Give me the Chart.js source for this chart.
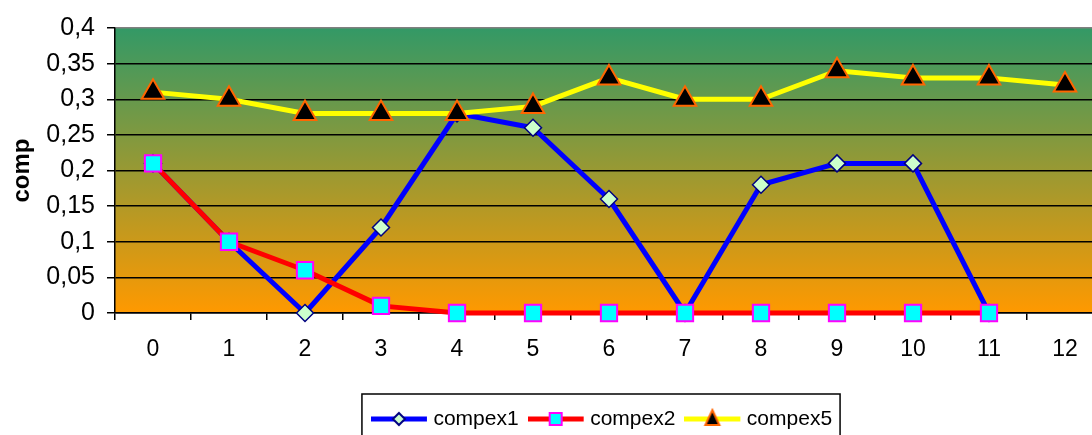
<!DOCTYPE html>
<html>
<head>
<meta charset="utf-8">
<script src="https://cdn.jsdelivr.net/npm/chart.js@4"></script>
<style>
  html, body { margin: 0; padding: 0; background: #fff; overflow: hidden; }
</style>
</head>
<body>
<canvas id="myChart" width="1118" height="445"></canvas>
<script>
const categories = ['0', '1', '2', '3', '4', '5', '6', '7', '8', '9', '10', '11', '12'];
const compex1 = [0.21, 0.1, 0, 0.12, 0.28, 0.26, 0.16, 0, 0.18, 0.21, 0.21, 0, null];
const compex2 = [0.21, 0.1, 0.06, 0.01, 0, 0, 0, 0, 0, 0, 0, 0, null];
const compex5 = [0.31, 0.3, 0.28, 0.28, 0.28, 0.29, 0.33, 0.3, 0.3, 0.34, 0.33, 0.33, 0.32];
const yMin = 0;
const yMax = 0.4;
const yStep = 0.05;

const FONT = 'Arial, "Liberation Sans", sans-serif';
const ICON_BOX = 37;   // room the legend keeps for each icon
const ICON_SHIFT = 5.5; // icon drawn a bit left of the box centre

// little icon for the legend: a line with the marker in the middle
function makeIcon(color, marker, fill, stroke) {
	const c = document.createElement('canvas');
	c.width = 56 + 2 * ICON_SHIFT;
	c.height = 26;
	const g = c.getContext('2d');
	g.strokeStyle = color;
	g.lineWidth = 5;
	g.beginPath();
	g.moveTo(0, 13);
	g.lineTo(56, 13);
	g.stroke();
	g.fillStyle = fill;
	g.strokeStyle = stroke;
	g.lineWidth = 2;
	g.beginPath();
	if (marker === 'diamond') {
		g.moveTo(28, 7); g.lineTo(34, 13); g.lineTo(28, 19); g.lineTo(22, 13);
	} else if (marker === 'square') {
		g.rect(22, 7, 12, 12);
	} else {
		g.moveTo(28, 4); g.lineTo(35, 19); g.lineTo(21, 19);
	}
	g.closePath();
	g.fill();
	g.stroke();
	return c;
}

const icons = [
	makeIcon('#0000ff', 'diamond', '#ccffcc', '#000080'),
	makeIcon('#ff0000', 'square', '#00ffff', '#ff00ff'),
	makeIcon('#ffff00', 'triangle', '#000000', '#ff6600')
];

const plotBackground = {
	id: 'plotBackground',
	beforeDraw(chart) {
		const {ctx, chartArea: a} = chart;
		const grad = ctx.createLinearGradient(0, a.top, 0, a.bottom);
		grad.addColorStop(0, '#339966');
		grad.addColorStop(1, '#ff9900');
		ctx.save();
		ctx.fillStyle = grad;
		ctx.fillRect(a.left, a.top, a.right - a.left, a.bottom - a.top);
		ctx.restore();
	}
};

const legendBorder = {
	id: 'legendBorder',
	afterDraw(chart) {
		const lg = chart.legend;
		const hb = lg.legendHitBoxes;
		if (!hb || !hb.length) return;
		const first = hb[0];
		const last = hb[hb.length - 1];
		const x0 = first.left + ICON_BOX / 2 - ICON_SHIFT - 28 - 9;
		const x1 = last.left + last.width + 8;
		const ctx = chart.ctx;
		ctx.save();
		ctx.strokeStyle = '#000';
		ctx.lineWidth = 1.5;
		ctx.strokeRect(x0, lg.top + 9.5, x1 - x0, 80);
		ctx.restore();
	}
};

const ctx = document.getElementById('myChart');

new Chart(ctx, {
	type: 'line',
	data: {
		labels: categories,
		datasets: [{
			label: 'compex1',
			data: compex1,
			borderColor: '#0000ff',
			borderWidth: 5,
			pointStyle: 'rectRot',
			pointRadius: 8.5,
			pointBackgroundColor: '#ccffcc',
			pointBorderColor: '#000080',
			pointBorderWidth: 1.5,
			order: 3
		}, {
			label: 'compex2',
			data: compex2,
			borderColor: '#ff0000',
			borderWidth: 5,
			pointStyle: 'rect',
			pointRadius: 11.5,
			pointBackgroundColor: '#00ffff',
			pointBorderColor: '#ff00ff',
			pointBorderWidth: 2,
			order: 2
		}, {
			label: 'compex5',
			data: compex5,
			borderColor: '#ffff00',
			borderWidth: 5,
			pointStyle: 'triangle',
			pointRadius: 13,
			pointBackgroundColor: '#000000',
			pointBorderColor: '#ff6600',
			pointBorderWidth: 2,
			order: 1
		}]
	},
	options: {
		responsive: false,
		animation: false,
		clip: false,
		spanGaps: false,
		elements: {
			line: { tension: 0, borderJoinStyle: 'round' }
		},
		layout: {
			padding: { left: 0, right: 7, top: 28, bottom: 5.5 }
		},
		plugins: {
			tooltip: { enabled: false },
			legend: {
				position: 'bottom',
				fullSize: false,
				labels: {
					usePointStyle: true,
					pointStyleWidth: ICON_BOX,
					padding: 24,
					color: '#000',
					font: { family: FONT, size: 21 },
					generateLabels(chart) {
						return chart.data.datasets.map((ds, i) => ({
							text: ds.label,
							pointStyle: icons[i],
							fillStyle: ds.borderColor,
							strokeStyle: ds.borderColor,
							lineWidth: 0,
							hidden: false,
							datasetIndex: i
						}));
					}
				}
			}
		},
		scales: {
			x: {
				type: 'category',
				offset: true,
				afterFit(scale) { scale.height = 71.5; },
				grid: {
					offset: true,
					drawOnChartArea: false,
					drawTicks: true,
					tickLength: 7,
					color: '#000',
					lineWidth: 1.5
				},
				border: { color: '#000', width: 1.5 },
				ticks: {
					color: '#000',
					padding: 16,
					maxRotation: 0,
					autoSkip: false,
					font: { family: FONT, size: 23 }
				}
			},
			y: {
				min: yMin,
				max: yMax,
				afterFit(scale) { scale.width = 115; },
				title: {
					display: true,
					text: 'comp',
					color: '#000',
					padding: { top: 8, bottom: 0 },
					font: { family: FONT, size: 24, weight: 'bold' }
				},
				grid: {
					color: (c) => (c.tick && c.tick.value >= yMax - 1e-9 ? '#808080' : '#000'),
					lineWidth: 1.5,
					tickLength: 8,
					tickColor: '#000'
				},
				border: { color: '#000', width: 1.5 },
				ticks: {
					stepSize: yStep,
					color: '#000',
					padding: 12,
					font: { family: FONT, size: 25 },
					callback: (v) => String(Math.round(v * 100) / 100).replace('.', ',')
				}
			}
		}
	},
	plugins: [plotBackground, legendBorder]
});
</script>
</body>
</html>
